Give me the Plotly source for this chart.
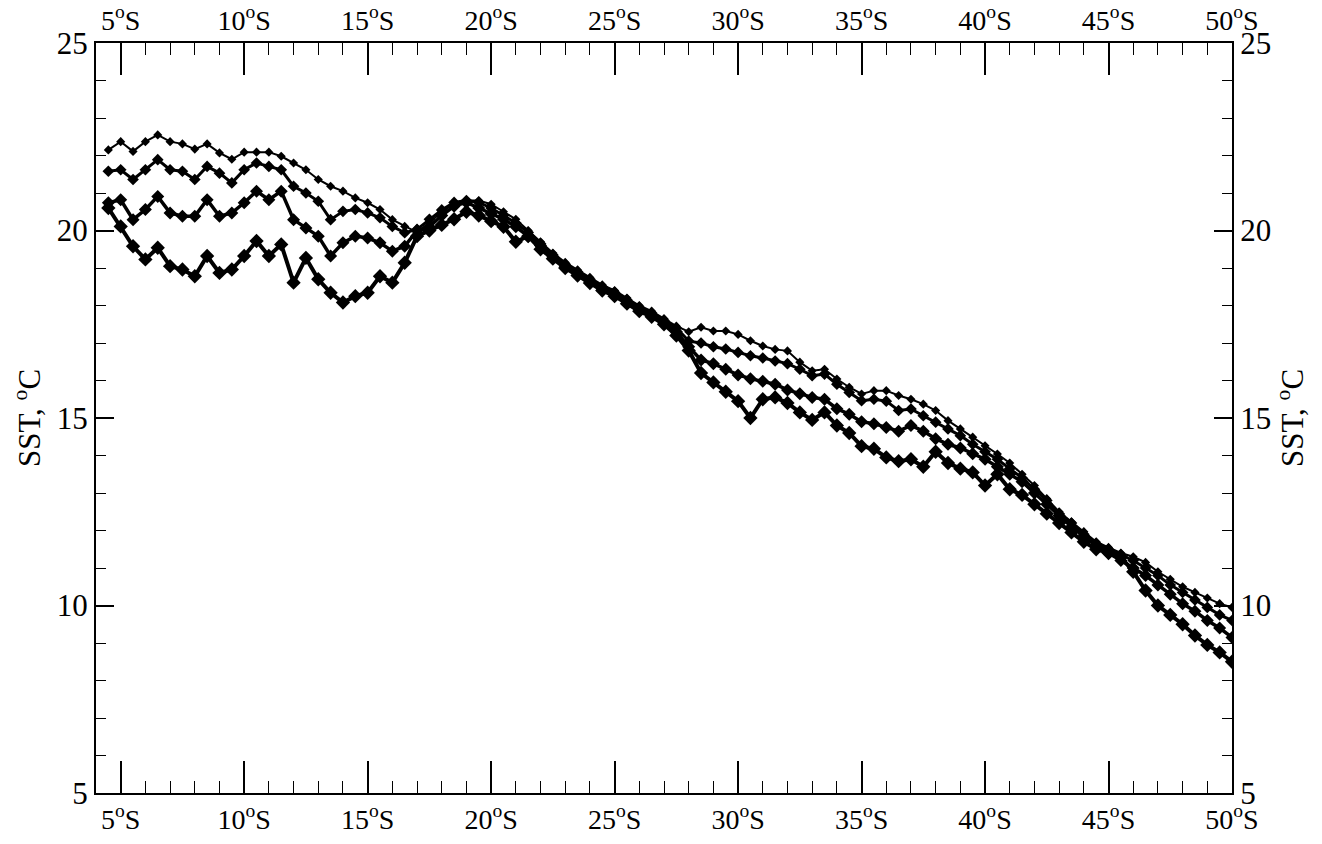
import plotly.graph_objects as go

# Latitude (degrees south), every 0.5 degree
lat = [4.5 + 0.5 * i for i in range(92)]

sst_a = [22.15, 22.37, 22.11, 22.37, 22.55, 22.37, 22.31, 22.17, 22.31, 22.07,
         21.90, 22.09, 22.09, 22.09, 21.98, 21.80, 21.62, 21.36, 21.18, 21.05,
         20.87, 20.74, 20.56, 20.29, 20.11, 19.95, 20.20, 20.50, 20.70, 20.80,
         20.80, 20.70, 20.50, 20.30, 20.00, 19.70, 19.40, 19.15, 18.95, 18.75,
         18.55, 18.40, 18.20, 18.00, 17.85, 17.65, 17.45, 17.30, 17.42, 17.32,
         17.32, 17.23, 17.06, 16.92, 16.83, 16.79, 16.49, 16.26, 16.30, 16.04,
         15.82, 15.64, 15.73, 15.73, 15.60, 15.50, 15.37, 15.20, 14.93, 14.71,
         14.49, 14.26, 14.04, 13.80, 13.50, 13.20, 12.85, 12.50, 12.23, 11.97,
         11.70, 11.55, 11.40, 11.30, 11.15, 10.90, 10.70, 10.50, 10.35, 10.20,
         10.05, 9.95]

sst_b = [21.58, 21.62, 21.36, 21.62, 21.89, 21.62, 21.58, 21.36, 21.71, 21.53,
         21.27, 21.62, 21.80, 21.71, 21.62, 21.18, 21.00, 20.78, 20.29, 20.51,
         20.56, 20.47, 20.34, 20.11, 19.94, 20.03, 20.30, 20.55, 20.75, 20.80,
         20.75, 20.60, 20.40, 20.20, 19.95, 19.65, 19.35, 19.10, 18.90, 18.70,
         18.50, 18.35, 18.15, 17.95, 17.80, 17.60, 17.40, 17.05, 17.00, 16.90,
         16.84, 16.75, 16.66, 16.60, 16.52, 16.45, 16.30, 16.13, 16.17, 15.90,
         15.68, 15.46, 15.50, 15.45, 15.20, 15.24, 15.06, 14.89, 14.71, 14.53,
         14.30, 14.10, 13.90, 13.65, 13.40, 13.10, 12.80, 12.45, 12.20, 11.90,
         11.65, 11.50, 11.35, 11.20, 11.00, 10.80, 10.55, 10.35, 10.15, 9.95,
         9.75, 9.60]

sst_c = [20.74, 20.82, 20.29, 20.56, 20.91, 20.47, 20.38, 20.38, 20.82, 20.38,
         20.47, 20.74, 21.05, 20.82, 21.05, 20.29, 20.07, 19.85, 19.32, 19.67,
         19.85, 19.80, 19.67, 19.45, 19.58, 20.00, 20.10, 20.40, 20.65, 20.75,
         20.60, 20.45, 20.30, 20.10, 19.85, 19.60, 19.30, 19.05, 18.85, 18.65,
         18.45, 18.30, 18.10, 17.90, 17.75, 17.55, 17.30, 16.90, 16.55, 16.45,
         16.30, 16.15, 16.05, 15.98, 15.90, 15.75, 15.65, 15.55, 15.50, 15.25,
         15.10, 14.90, 14.85, 14.75, 14.65, 14.80, 14.65, 14.45, 14.30, 14.20,
         14.05, 13.90, 13.70, 13.50, 13.30, 13.00, 12.70, 12.40, 12.10, 11.85,
         11.60, 11.40, 11.20, 11.00, 10.80, 10.55, 10.30, 10.05, 9.85, 9.60,
         9.40, 9.15]

sst_d = [20.60, 20.11, 19.58, 19.23, 19.54, 19.05, 18.96, 18.78, 19.32, 18.87,
         18.96, 19.32, 19.72, 19.32, 19.63, 18.61, 19.27, 18.70, 18.34, 18.08,
         18.25, 18.34, 18.78, 18.61, 19.14, 19.85, 20.00, 20.15, 20.30, 20.50,
         20.40, 20.25, 20.10, 19.70, 19.85, 19.50, 19.25, 19.00, 18.80, 18.60,
         18.40, 18.25, 18.05, 17.85, 17.70, 17.50, 17.20, 16.80, 16.20, 15.95,
         15.70, 15.45, 15.00, 15.50, 15.55, 15.40, 15.15, 14.95, 15.15, 14.80,
         14.60, 14.25, 14.18, 13.95, 13.85, 13.90, 13.70, 14.10, 13.80, 13.65,
         13.55, 13.20, 13.50, 13.10, 12.95, 12.70, 12.45, 12.20, 11.95, 11.70,
         11.50, 11.40, 11.30, 10.90, 10.40, 10.00, 9.75, 9.50, 9.20, 8.95,
         8.75, 8.50]

x_tick_vals = [5, 10, 15, 20, 25, 30, 35, 40, 45, 50]
x_tick_text = [f"{v}<sup>o</sup>S" for v in x_tick_vals]
y_tick_vals = [5, 10, 15, 20, 25]
y_title = "SST, <sup>o</sup>C"

series = [sst_a, sst_b, sst_c, sst_d]
line_widths = [2, 3, 3.5, 4]
marker_sizes = [7, 9, 10, 11]

FONT = "Liberation Serif, Times New Roman, serif"

fig = go.Figure()
for vals, lw, ms in zip(series, line_widths, marker_sizes):
    fig.add_trace(go.Scatter(
        x=lat, y=vals, mode="lines+markers",
        line=dict(color="black", width=lw),
        marker=dict(symbol="diamond", size=ms, color="black"),
        showlegend=False, hoverinfo="skip"))

# empty trace to carry the mirrored top/right axes
fig.add_trace(go.Scatter(x=[], y=[], xaxis="x2", yaxis="y2", showlegend=False))

common_x = dict(range=[4, 50], tickmode="array", tickvals=x_tick_vals,
                ticktext=x_tick_text, ticks="inside", ticklen=32, tickwidth=1.5,
                tickcolor="black", showgrid=False, zeroline=False,
                showline=True, linecolor="black", linewidth=2, automargin=False,
                tickfont=dict(family=FONT, size=28, color="black"),
                minor=dict(tickmode="linear", tick0=0, dtick=1, ticks="inside",
                           ticklen=12, tickwidth=1, tickcolor="black"))


def y_axis(side, standoff):
    return dict(range=[5, 25], tickmode="array", tickvals=y_tick_vals,
                ticks="inside", ticklen=18, tickwidth=1.5, tickcolor="black",
                showgrid=False, zeroline=False, showline=True,
                linecolor="black", linewidth=2, automargin=False, side=side,
                tickfont=dict(family=FONT, size=31, color="black"),
                title=dict(text=y_title, font=dict(family=FONT, size=31, color="black"),
                           standoff=standoff),
                minor=dict(tickmode="linear", tick0=0, dtick=1, ticks="inside",
                           ticklen=10, tickwidth=1, tickcolor="black"))


fig.update_layout(
    width=1314, height=836,
    margin=dict(l=88, r=90, t=35, b=51),
    paper_bgcolor="white", plot_bgcolor="white",
    xaxis=dict(**common_x, side="bottom", anchor="y"),
    xaxis2=dict(**common_x, side="top", overlaying="x", anchor="y"),
    yaxis=dict(**y_axis("left", 12), anchor="x"),
    yaxis2=dict(**y_axis("right", 2), overlaying="y", anchor="x"),
)

fig.write_html("out.html")
